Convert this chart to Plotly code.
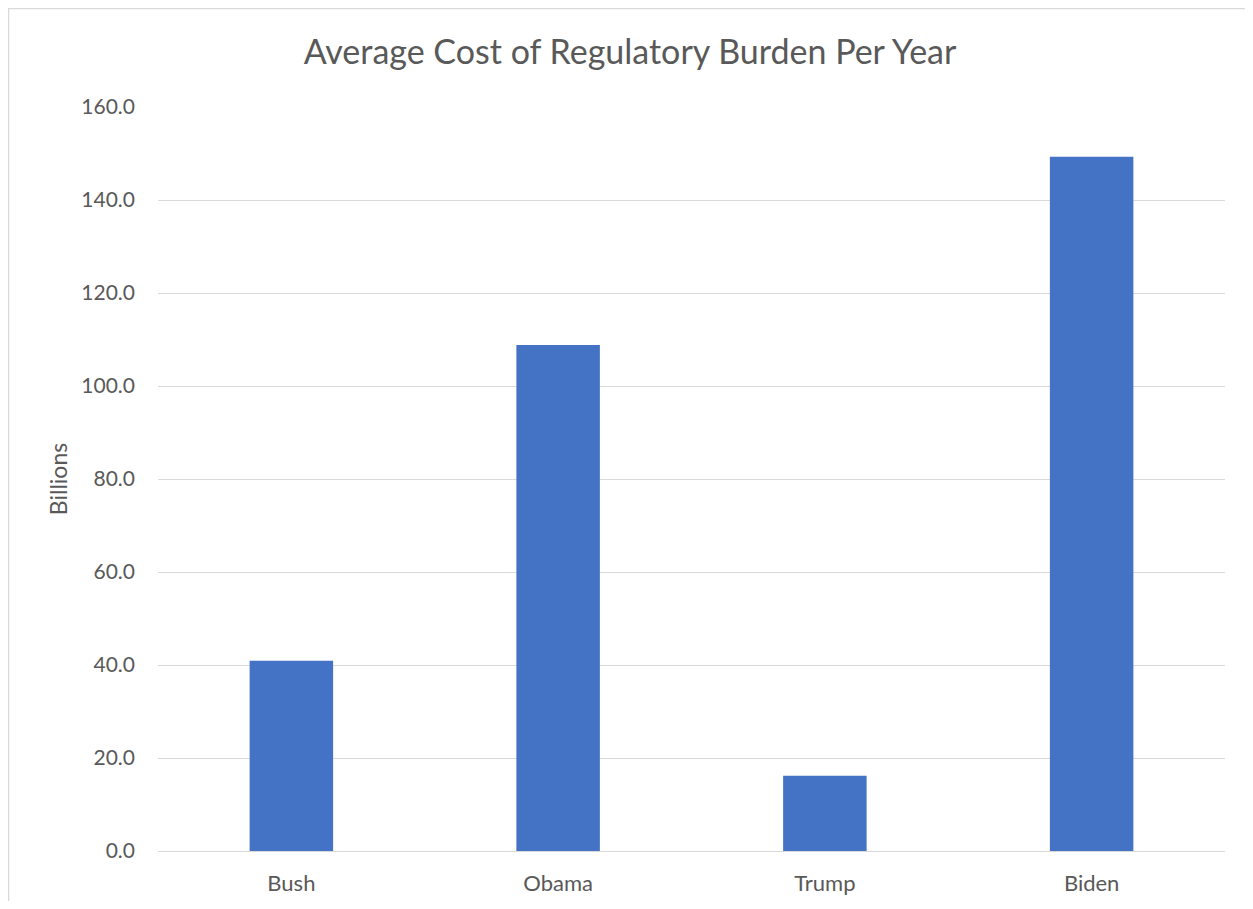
import plotly.graph_objects as go

categories = ["Bush", "Obama", "Trump", "Biden"]
values = [40.9, 108.8, 16.2, 149.3]
y_ticks = [0, 20, 40, 60, 80, 100, 120, 140, 160]
y_tick_labels = ["0.0", "20.0", "40.0", "60.0", "80.0", "100.0", "120.0", "140.0", "160.0"]

# page body has an 8px margin, so the figure sits at (8, 8) on screen
OFF = 8
W, H = 1253 - OFF, 909 - 2 * OFF
L, R, T = 158 - OFF, 1253 - 1225, 107 - OFF
B = H - (851 - OFF)
pw, ph = W - L - R, H - T - B

def px_x(x):
    return (x - L) / pw

def px_y(y):
    return (H - B - y) / ph

FONT = "Lato"
TXT = "#595959"

fig = go.Figure(go.Bar(
    x=categories, y=values,
    marker=dict(color="#4472C4", line=dict(width=0)),
    width=0.313,
))

fig.update_layout(
    width=W, height=H,
    margin=dict(l=L, r=R, t=T, b=B, autoexpand=False),
    paper_bgcolor="white", plot_bgcolor="white",
    font=dict(family=FONT, color=TXT, size=21),
    title=dict(text="Average Cost of Regulatory Burden Per Year",
               x=(630 - OFF) / W, xanchor="center",
               y=1 - (52 - OFF) / H, yanchor="middle",
               font=dict(family=FONT, size=34, color=TXT)),
    showlegend=False,
    bargap=0.687,
)
fig.update_xaxes(showgrid=False, showline=False, zeroline=False,
                 automargin=False,
                 ticks="", ticklabelstandoff=17,
                 tickfont=dict(family=FONT, size=22, color=TXT))
fig.update_yaxes(range=[0, 160], tickvals=y_ticks, ticktext=y_tick_labels,
                 automargin=False,
                 showgrid=True, gridcolor="#d9d9d9", gridwidth=1.3,
                 zeroline=True, zerolinecolor="#d9d9d9", zerolinewidth=1.3,
                 showline=False, ticks="", ticklabelstandoff=22,
                 tickfont=dict(family=FONT, size=21, color=TXT),
                 title=dict(text="Billions", standoff=7,
                            font=dict(family=FONT, size=23, color=TXT)))

fig.add_shape(type="rect", xref="paper", yref="paper",
              x0=px_x(0.5), x1=px_x(1300), y0=px_y(960), y1=px_y(0.5),
              line=dict(color="#d9d9d9", width=1.5), fillcolor="rgba(0,0,0,0)",
              layer="below")

fig.write_html("out.html")
